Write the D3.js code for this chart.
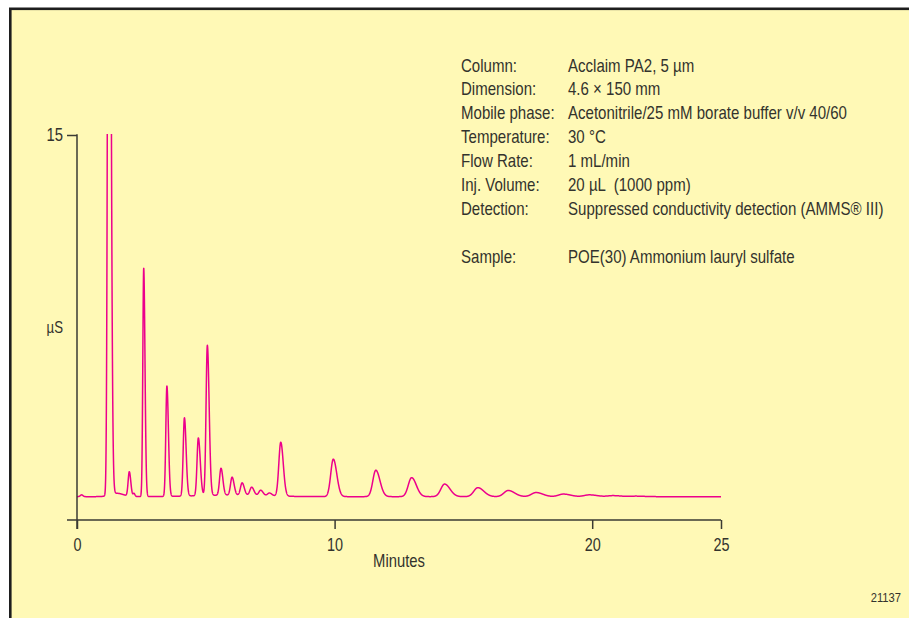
<!DOCTYPE html>
<html>
<head>
<meta charset="utf-8">
<script src="https://cdn.jsdelivr.net/npm/d3@7"></script>
<style>
  html, body { margin: 0; padding: 0; background: #ffffff; }
  svg { display: block; }
  text { font-family: "Liberation Sans", Arial, sans-serif; fill: #33332d; white-space: pre; }
</style>
</head>
<body>
<svg id="chart" width="909" height="618"></svg>
<script>
// ---------------- data ----------------
const xTickValues = [0, 10, 20, 25];
const yTickValues = [15];
const xLabel = "Minutes";
const yLabel = "µS";
const figureId = "21137";

const baselineLevel = 0.91;   // µS
// retention time (min), height above baseline (µS), front sigma (min), tail factor
const peakTimes   = [0.18, 1.24, 1.55, 2.03, 2.21, 2.59, 3.49, 4.17, 4.71, 5.06, 5.59, 6.02, 6.41, 6.78, 7.13, 7.47, 6.00, 7.91, 9.95, 11.60, 12.99, 14.27, 15.56, 16.74, 17.82, 18.88, 19.89, 20.81, 21.70];
const peakHeights = [0.07, 40.0, 0.13, 0.95, 0.12, 8.90, 4.30, 3.05, 2.25, 5.85, 1.05, 0.70, 0.48, 0.32, 0.21, 0.11, 0.06, 2.10, 1.46, 1.03, 0.74, 0.49, 0.35, 0.24, 0.16, 0.10, 0.07, 0.04, 0.02];
const peakWidths  = [0.05, 0.045, 0.25, 0.045, 0.03, 0.035, 0.042, 0.047, 0.05, 0.05, 0.056, 0.06, 0.064, 0.068, 0.07, 0.072, 1.30, 0.075, 0.10, 0.115, 0.13, 0.145, 0.155, 0.165, 0.175, 0.185, 0.195, 0.20, 0.20];
const peakTails   = [1.0, 1.5, 1.0, 1.3, 1.3, 1.4, 1.4, 1.4, 1.5, 1.4, 1.3, 1.3, 1.3, 1.3, 1.3, 1.3, 1.0, 1.3, 1.35, 1.4, 1.4, 1.45, 1.5, 1.5, 1.5, 1.5, 1.5, 1.5, 1.5];

const annoLabels = ["Column:", "Dimension:", "Mobile phase:", "Temperature:", "Flow Rate:", "Inj. Volume:", "Detection:", "", "Sample:"];
const annoValues = ["Acclaim PA2, 5 µm", "4.6 × 150 mm", "Acetonitrile/25 mM borate buffer v/v 40/60", "30 °C", "1 mL/min", "20 µL  (1000 ppm)", "Suppressed conductivity detection (AMMS® III)", "", "POE(30) Ammonium lauryl sulfate"];

// ---------------- layout ----------------
const svg = d3.select("#chart");
const W = 909, H = 618;
const x = d3.scaleLinear().domain([0, 25]).range([77, 721]);
const y = d3.scaleLinear().domain([0, 15]).range([520, 135]);
const axisColor = "#3a3a33";
const traceColor = "#ec008c";

// horizontally condense a text around its anchor point (narrow type look)
function condense(sel, k) {
  sel.each(function () {
    const t = d3.select(this);
    const tx = +t.attr("x") || 0, ty = +t.attr("y") || 0;
    t.attr("x", 0).attr("y", 0).attr("transform", `translate(${tx},${ty}) scale(${k},1)`);
  });
}

// frame / background
svg.append("rect").attr("x", 0).attr("y", 0).attr("width", W).attr("height", H).attr("fill", "#ffffff");
svg.append("rect")
  .attr("x", 10.3).attr("y", 8.8).attr("width", W + 20).attr("height", H + 20)
  .attr("fill", "#fff9b6").attr("stroke", "#1e1e1e").attr("stroke-width", 2.6);

// ---------------- trace ----------------
const peaks = peakTimes.map((t, i) => ({ t, h: peakHeights[i], s: peakWidths[i], k: peakTails[i] }));
function signal(t) {
  let v = baselineLevel;
  for (const p of peaks) {
    const s = t < p.t ? p.s : p.s * p.k;
    const z = (t - p.t) / s;
    if (Math.abs(z) < 12) v += p.h * Math.exp(-0.5 * z * z);
  }
  return v;
}
const traceTimes = d3.range(0, 25.0001, 0.004);
const traceData = traceTimes.map(t => [t, signal(t)]);

svg.append("clipPath").attr("id", "plotClip")
  .append("rect").attr("x", x(0)).attr("y", y(15) - 1).attr("width", x(25) - x(0) + 2).attr("height", y(0) - y(15) + 1);

svg.append("path")
  .datum(traceData)
  .attr("clip-path", "url(#plotClip)")
  .attr("fill", "none")
  .attr("stroke", traceColor)
  .attr("stroke-width", 1.5)
  .attr("stroke-linejoin", "round")
  .attr("d", d3.line().x(d => x(d[0])).y(d => y(d[1])));

// ---------------- axes ----------------
const tickLen = 9;
const gx = svg.append("g").attr("transform", `translate(0,${y(0)})`)
  .call(d3.axisBottom(x).tickValues(xTickValues).tickFormat(d3.format("d")).tickSizeInner(tickLen).tickSizeOuter(0).tickPadding(9));
gx.select(".domain").remove();
gx.selectAll(".tick line").attr("stroke", axisColor).attr("stroke-width", 1.5);
gx.selectAll(".tick text").attr("font-size", 19).attr("font-family", null).attr("fill", "#33332d").call(condense, 0.76);

const gy = svg.append("g").attr("transform", `translate(${x(0)},0)`)
  .call(d3.axisLeft(y).tickValues(yTickValues).tickFormat(d3.format("d")).tickSizeInner(10).tickSizeOuter(0).tickPadding(4));
gy.select(".domain").remove();
gy.selectAll(".tick line").attr("stroke", axisColor).attr("stroke-width", 1.5);
gy.selectAll(".tick text").attr("font-size", 18.5).attr("font-family", null).attr("fill", "#33332d").call(condense, 0.8);

// axis lines (x axis extends one tick length left of origin, y axis one tick below)
svg.append("line").attr("x1", x(0) - 10).attr("x2", x(25)).attr("y1", y(0)).attr("y2", y(0))
  .attr("stroke", axisColor).attr("stroke-width", 1.5);
svg.append("line").attr("x1", x(0)).attr("x2", x(0)).attr("y1", y(15) - 0.75).attr("y2", y(0) + tickLen)
  .attr("stroke", axisColor).attr("stroke-width", 1.5);

// axis titles
svg.append("text").attr("x", (x(0) + x(25)) / 2).attr("y", y(0) + 46.5)
  .attr("text-anchor", "middle").attr("font-size", 18.5).text(xLabel).call(condense, 0.8);
svg.append("text").attr("x", x(0) - 14).attr("y", y(7.5)).attr("dy", "0.35em")
  .attr("text-anchor", "end").attr("font-size", 16.5).text(yLabel).call(condense, 0.8);

// figure id
svg.append("text").attr("x", 901).attr("y", 602).attr("text-anchor", "end")
  .attr("font-size", 13.5).text(figureId).call(condense, 0.83);

// ---------------- annotation block ----------------
const annoX1 = 461, annoX2 = 568, annoY0 = 71.5, annoStep = 23.9;
const ga = svg.append("g");
annoLabels.forEach((lab, i) => {
  if (!lab) return;
  ga.append("text").attr("x", annoX1).attr("y", annoY0 + i * annoStep)
    .attr("font-size", 17.5).text(lab).call(condense, 0.86);
});
annoValues.forEach((val, i) => {
  if (!val) return;
  ga.append("text").attr("x", annoX2).attr("y", annoY0 + i * annoStep)
    .attr("font-size", 17.5).text(val).call(condense, 0.86);
});
</script>
</body>
</html>
